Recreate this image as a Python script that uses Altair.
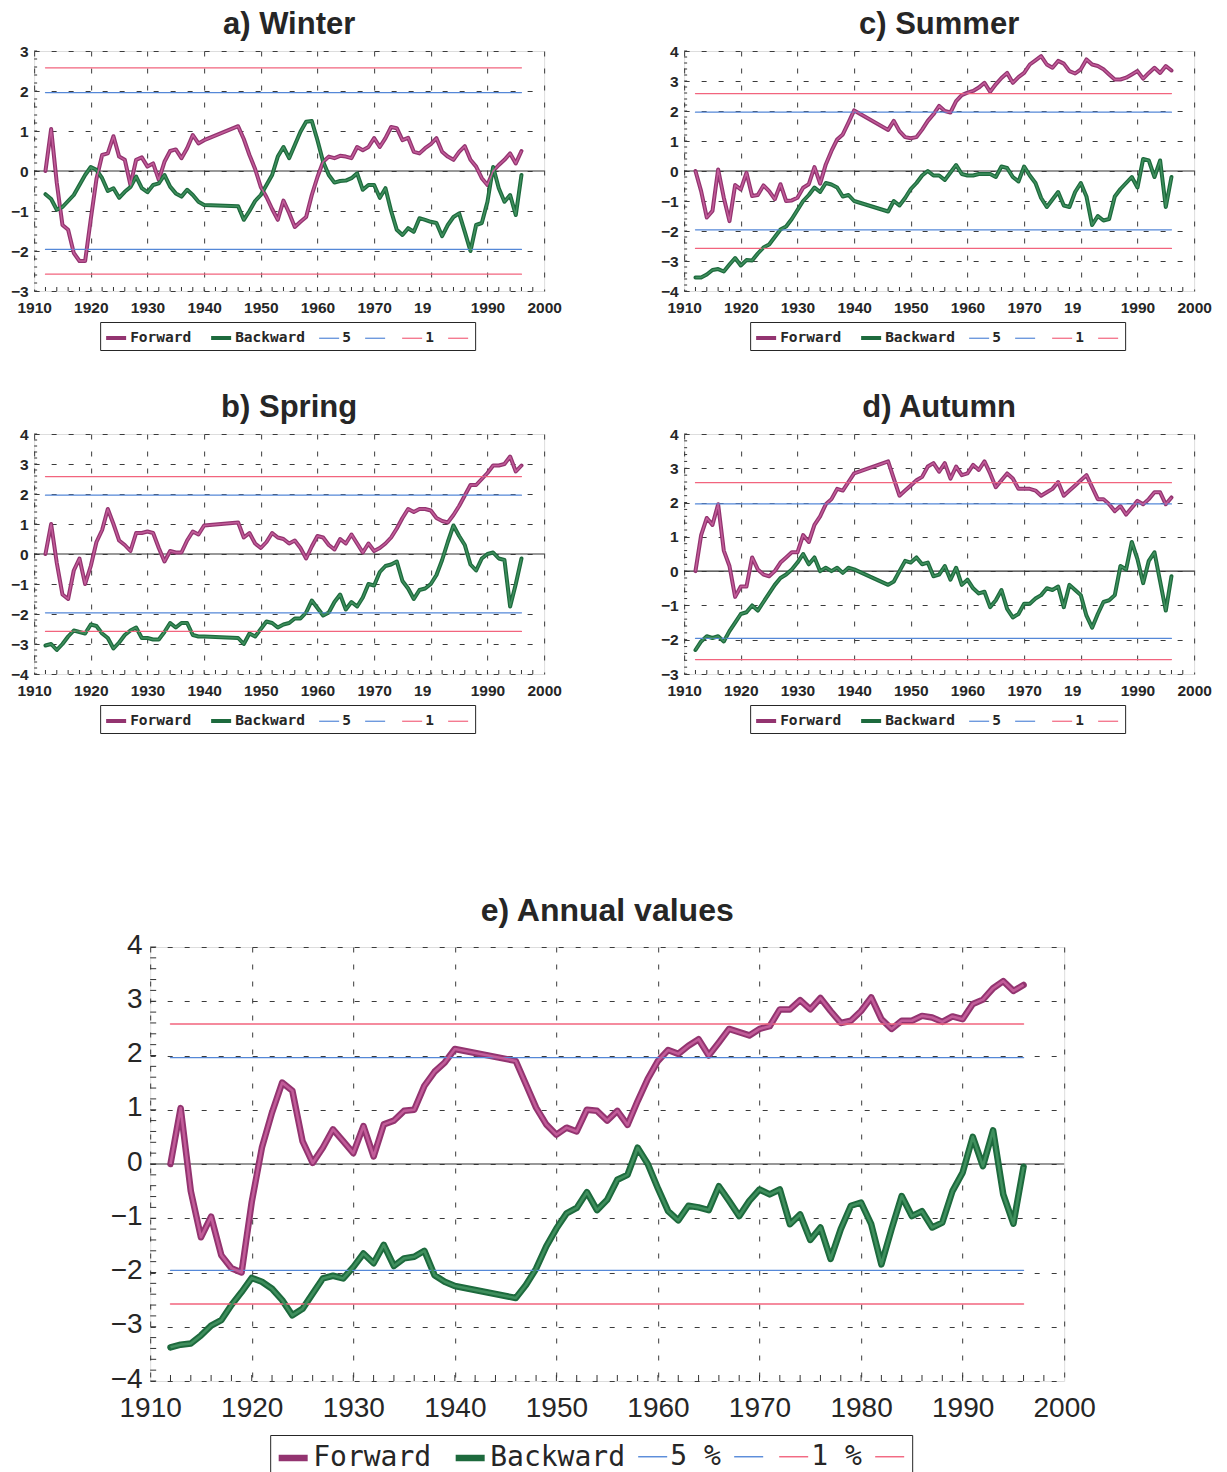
import altair as alt
import pandas as pd
import numpy as np

# Years of the record; 1941-1945 are missing, so the curves jump straight across them.
YEARS = list(range(1912, 1941)) + list(range(1946, 1997))

# Sequential Mann-Kendall statistics u(t) (Forward) and u'(t) (Backward)
WINTER_FORWARD = [
    0.0, 1.05, -0.3, -1.35, -1.47, -2.05, -2.25, -2.25,
    -1.2, -0.2, 0.4, 0.44, 0.87, 0.36, 0.28, -0.35, 0.28, 0.34,
    0.11, 0.19, -0.22, 0.23, 0.5, 0.54, 0.32, 0.57, 0.9, 0.69, 0.77,
    1.12, 0.8, 0.4, 0.05,
    -0.4, -0.65, -0.95, -1.22, -0.74, -1.05, -1.4, -1.27, -1.15, -0.6,
    -0.15, 0.23, 0.36, 0.32, 0.38, 0.36, 0.32, 0.6, 0.52, 0.6,
    0.82, 0.6, 0.82, 1.1, 1.07, 0.77, 0.83, 0.48, 0.44, 0.57,
    0.67, 0.82, 0.48, 0.36, 0.28, 0.48, 0.62, 0.28, 0.11, -0.18,
    -0.35, 0.0, 0.15, 0.28, 0.44, 0.19, 0.5,
]
WINTER_BACKWARD = [
    -0.58, -0.7, -0.97, -0.9, -0.75, -0.6, -0.35, -0.1,
    0.1, 0.03, -0.18, -0.5, -0.43, -0.67, -0.52, -0.4, -0.14, -0.43,
    -0.53, -0.35, -0.31, -0.1, -0.39, -0.56, -0.64, -0.47, -0.6, -0.77, -0.85,
    -0.88, -1.22, -1.0, -0.75,
    -0.6, -0.35, -0.1, 0.36, 0.6, 0.32, 0.65, 0.98, 1.23, 1.25,
    0.77, 0.23, -0.1, -0.29, -0.25, -0.24, -0.18, -0.06, -0.47, -0.35,
    -0.35, -0.67, -0.43, -1.0, -1.47, -1.6, -1.43, -1.52, -1.18, -1.22,
    -1.27, -1.3, -1.63, -1.35, -1.15, -1.06, -1.52, -2.0, -1.35, -1.3,
    -0.77, 0.1, -0.43, -0.77, -0.6, -1.1, -0.1,
]
SPRING_FORWARD = [
    0.0, 1.0, -0.3, -1.35, -1.5, -0.55, -0.15, -1.0,
    -0.4, 0.4, 0.8, 1.5, 1.0, 0.45, 0.3, 0.1, 0.7, 0.7,
    0.75, 0.7, 0.2, -0.25, 0.1, 0.05, 0.05, 0.45, 0.75, 0.65, 0.95,
    1.05, 0.55, 0.7, 0.35,
    0.2, 0.4, 0.7, 0.55, 0.5, 0.35, 0.45, 0.2, -0.15, 0.25,
    0.6, 0.55, 0.3, 0.15, 0.5, 0.35, 0.65, 0.35, 0.05, 0.35,
    0.1, 0.2, 0.35, 0.55, 0.85, 1.2, 1.5, 1.4, 1.5, 1.5,
    1.45, 1.2, 1.1, 1.05, 1.3, 1.6, 1.95, 2.3, 2.3, 2.5,
    2.7, 2.95, 2.95, 3.0, 3.25, 2.75, 2.95,
]
SPRING_BACKWARD = [
    -3.05, -3.0, -3.2, -3.0, -2.75, -2.55, -2.6, -2.65,
    -2.35, -2.4, -2.65, -2.8, -3.15, -2.95, -2.7, -2.55, -2.45, -2.8,
    -2.8, -2.85, -2.85, -2.6, -2.3, -2.45, -2.3, -2.3, -2.7, -2.75, -2.75,
    -2.8, -3.0, -2.65, -2.75,
    -2.5, -2.25, -2.3, -2.45, -2.35, -2.3, -2.15, -2.15, -1.95, -1.55,
    -1.8, -2.05, -1.95, -1.6, -1.35, -1.85, -1.6, -1.75, -1.45, -1.0,
    -1.05, -0.6, -0.4, -0.35, -0.25, -0.9, -1.15, -1.5, -1.2, -1.15,
    -1.0, -0.7, -0.2, 0.4, 0.95, 0.6, 0.3, -0.35, -0.55, -0.15,
    0.0, 0.05, -0.15, -0.2, -1.75, -1.0, -0.15,
]
SUMMER_FORWARD = [
    0.0, -0.67, -1.55, -1.33, 0.05, -0.89, -1.67, -0.47,
    -0.61, -0.06, -0.83, -0.8, -0.48, -0.67, -0.94, -0.44, -1.0, -0.98,
    -0.89, -0.56, -0.44, 0.13, -0.42, 0.22, 0.67, 1.05, 1.22, 1.61, 2.02,
    1.37, 1.67, 1.33, 1.13,
    1.09, 1.13, 1.38, 1.67, 1.89, 2.17, 2.0, 1.95, 2.33, 2.53,
    2.61, 2.67, 2.78, 2.94, 2.64, 2.89, 3.1, 3.27, 2.94, 3.13,
    3.27, 3.55, 3.69, 3.83, 3.55, 3.44, 3.67, 3.58, 3.33, 3.25,
    3.39, 3.72, 3.55, 3.5, 3.39, 3.22, 3.05, 3.05, 3.11, 3.22,
    3.33, 3.08, 3.27, 3.44, 3.27, 3.5, 3.35,
]
SUMMER_BACKWARD = [
    -3.55, -3.55, -3.45, -3.3, -3.27, -3.35, -3.12, -2.9,
    -3.15, -2.97, -2.98, -2.75, -2.55, -2.45, -2.2, -1.95, -1.85, -1.6,
    -1.3, -1.0, -0.8, -0.55, -0.7, -0.4, -0.45, -0.55, -0.85, -0.8, -1.0,
    -1.35, -1.0, -1.15, -0.9,
    -0.6, -0.4, -0.15, 0.0, -0.15, -0.15, -0.3, -0.05, 0.2, -0.1,
    -0.15, -0.15, -0.1, -0.1, -0.1, -0.2, 0.15, 0.1, -0.2, -0.35,
    0.15, -0.15, -0.4, -0.9, -1.2, -0.95, -0.7, -1.15, -1.2, -0.7,
    -0.4, -0.85, -1.8, -1.5, -1.65, -1.6, -0.85, -0.6, -0.4, -0.2,
    -0.55, 0.4, 0.35, -0.2, 0.35, -1.2, -0.2,
]
AUTUMN_FORWARD = [
    0.0, 1.05, 1.55, 1.35, 1.95, 0.6, 0.15, -0.75,
    -0.45, -0.45, 0.4, 0.05, -0.1, -0.15, 0.0, 0.25, 0.4, 0.55,
    0.55, 1.05, 0.85, 1.35, 1.6, 1.95, 2.1, 2.4, 2.35, 2.6, 2.85,
    3.2, 2.7, 2.2, 2.35,
    2.5, 2.65, 2.75, 3.05, 3.15, 2.9, 3.15, 2.7, 3.05, 2.8,
    2.85, 3.1, 2.95, 3.2, 2.85, 2.45, 2.65, 2.85, 2.7, 2.4,
    2.4, 2.4, 2.35, 2.2, 2.3, 2.4, 2.6, 2.2, 2.35, 2.5,
    2.65, 2.8, 2.45, 2.1, 2.1, 1.95, 1.75, 1.9, 1.65, 1.85,
    2.05, 1.95, 2.1, 2.3, 2.3, 1.95, 2.15,
]
AUTUMN_BACKWARD = [
    -2.3, -2.05, -1.9, -1.95, -1.9, -2.05, -1.75, -1.5,
    -1.25, -1.2, -1.0, -1.15, -0.9, -0.65, -0.4, -0.2, -0.1, 0.05,
    0.25, 0.5, 0.2, 0.4, 0.0, 0.1, 0.0, 0.1, -0.05, 0.1, 0.05,
    -0.4, -0.3, 0.0, 0.3,
    0.25, 0.4, 0.2, 0.25, -0.15, -0.1, 0.15, -0.25, 0.1, -0.4,
    -0.25, -0.5, -0.65, -0.6, -1.05, -0.85, -0.55, -1.1, -1.35, -1.25,
    -0.95, -0.95, -0.8, -0.7, -0.5, -0.55, -0.45, -1.05, -0.4, -0.55,
    -0.7, -1.3, -1.65, -1.25, -0.9, -0.85, -0.7, 0.15, 0.05, 0.85,
    0.35, -0.35, 0.3, 0.55, -0.3, -1.15, -0.15,
]
ANNUAL_FORWARD = [
    0.0, 1.03, -0.5, -1.35, -0.97, -1.68, -1.92, -2.0,
    -0.7, 0.3, 0.95, 1.5, 1.35, 0.42, 0.02, 0.3, 0.64, 0.42,
    0.2, 0.7, 0.14, 0.73, 0.8, 0.98, 1.0, 1.44, 1.7, 1.87, 2.12,
    1.9, 1.47, 1.04, 0.73,
    0.54, 0.67, 0.6, 1.0, 0.98, 0.8, 0.98, 0.72, 1.16, 1.57,
    1.9, 2.1, 2.03, 2.18, 2.3, 2.0, 2.24, 2.49, 2.43, 2.37,
    2.49, 2.54, 2.85, 2.85, 3.02, 2.85, 3.06, 2.82, 2.6, 2.64,
    2.82, 3.07, 2.67, 2.49, 2.64, 2.64, 2.73, 2.7, 2.62, 2.72,
    2.67, 2.95, 3.03, 3.24, 3.37, 3.19, 3.3,
]
ANNUAL_BACKWARD = [
    -3.38, -3.33, -3.31, -3.16, -2.98, -2.88, -2.6, -2.36,
    -2.1, -2.17, -2.3, -2.51, -2.79, -2.67, -2.39, -2.11, -2.06, -2.11,
    -1.9, -1.65, -1.83, -1.49, -1.88, -1.74, -1.71, -1.6, -2.05, -2.17, -2.25,
    -2.47, -2.23, -1.93, -1.52,
    -1.19, -0.91, -0.81, -0.52, -0.85, -0.66, -0.29, -0.2, 0.3, 0.0,
    -0.45, -0.87, -1.04, -0.77, -0.8, -0.85, -0.41, -0.68, -0.96, -0.68,
    -0.47, -0.56, -0.47, -1.11, -0.93, -1.4, -1.17, -1.75, -1.2, -0.77,
    -0.71, -1.11, -1.85, -1.2, -0.59, -0.96, -0.87, -1.17, -1.08, -0.5,
    -0.16, 0.5, -0.04, 0.62, -0.56, -1.1, -0.05,
]

# Two-sided significance thresholds of the standard normal statistic
SIG_5 = 1.96
SIG_1 = 2.58

KEYS = ["Forward", "Backward", "p5", "p5_low", "p1", "p1_low"]
LINE_COLORS = ["#933470", "#1d6a3d", "#5588d8", "#5588d8", "#f2647e", "#f2647e"]
INNER_FWD = "#c25c99"
INNER_BWD = "#3f8f5d"
INK = "#262626"

X_TICKS = list(range(1910, 2001, 10))


def panel(title, forward, backward, ymin, ymax, w, h, big):
    assert len(forward) == len(YEARS) and len(backward) == len(YEARS)
    rows = []
    for yr, f, b in zip(YEARS, forward, backward):
        rows.append({"year": yr, "value": f, "series": "Forward"})
        rows.append({"year": yr, "value": b, "series": "Backward"})
    for yr in (YEARS[0], YEARS[-1]):
        rows += [
            {"year": yr, "value": SIG_5, "series": "p5"},
            {"year": yr, "value": -SIG_5, "series": "p5_low"},
            {"year": yr, "value": SIG_1, "series": "p1"},
            {"year": yr, "value": -SIG_1, "series": "p1_low"},
        ]
    df = pd.DataFrame(rows)

    xs = alt.Scale(domain=[1910, 2000], nice=False, zero=False)
    ys = alt.Scale(domain=[ymin, ymax], nice=False, zero=False)

    if big:
        tick_font, tick_size, tick_weight = "Liberation Sans", 28, "normal"
        leg_size, leg_weight, sym, cpad, lpad = 28, "normal", 841, 10, 5
        main_w, inner_w, sig_w = 6.5, 2.6, 1.4
        five, one = "5 %", "1 %"
        x_expr = "datum.label"
        x_align = "center"
        title_size, title_off = 32, 3
        y_len, x_len = 6, 6
        leg_x, leg_y = 120, 488
        lab_pad_x, lab_pad_y, y_shift = 13, 8, -2
    else:
        tick_font, tick_size, tick_weight = "Liberation Sans", 15.5, "bold"
        leg_size, leg_weight, sym, cpad, lpad = 14.5, "bold", 400, 11, 4
        main_w, inner_w, sig_w = 4.0, 1.5, 1.2
        five, one = "5\u00a0\u00a0", "1\u00a0\u00a0"
        # the 1980 label is printed truncated, sitting just left of its gridline
        x_expr = "datum.value == 1980 ? '19' : datum.label"
        x_align = {"condition": {"test": "datum.value == 1980", "value": "right"},
                   "value": "center"}
        title_size, title_off = 31, 3
        y_len, x_len = 3, 4
        leg_x, leg_y = 66, 271
        lab_pad_x, lab_pad_y, y_shift = 9, 6, 0

    label_expr = (
        "datum.label == 'p5' ? '%s' : datum.label == 'p1' ? '%s' : "
        "(datum.label == 'p5_low' || datum.label == 'p1_low') ? '\u00a0' : datum.label"
        % (five, one)
    )
    legend = alt.Legend(
        title=None, orient="none", legendX=leg_x, legendY=leg_y,
        direction="horizontal", symbolType="stroke", symbolSize=sym,
        labelExpr=label_expr, labelFont="DejaVu Sans Mono", labelFontSize=leg_size,
        labelFontWeight=leg_weight, labelColor=INK, labelOffset=2,
        columnPadding=cpad, padding=lpad, strokeColor=INK, fillColor="white",
    )

    axis_common = dict(
        title=None, grid=True, gridDash=[5, 12], gridColor="#3c3c3c", gridWidth=1,
        ticks=False, domain=False, labelFont=tick_font, labelFontSize=tick_size,
        labelFontWeight=tick_weight, labelColor=INK, labelOverlap=False,
    )
    x_axis = alt.Axis(values=X_TICKS, format="d", labelExpr=x_expr, labelAlign=x_align,
                      labelPadding=lab_pad_x, labelFlush=False, **axis_common)
    y_axis = alt.Axis(values=list(range(ymin, ymax + 1)), labelPadding=lab_pad_y,
                      labelOffset=y_shift, **axis_common)

    def X(field):
        return alt.X(field, scale=xs, axis=x_axis)

    def Y(field):
        return alt.Y(field, scale=ys, axis=y_axis)

    lines = alt.Chart(df).mark_line(strokeCap="round", strokeJoin="round").encode(
        x=X("year:Q"),
        y=Y("value:Q"),
        color=alt.Color("series:N", scale=alt.Scale(domain=KEYS, range=LINE_COLORS),
                        legend=legend),
        strokeWidth=alt.StrokeWidth("series:N", scale=alt.Scale(
            type="ordinal", domain=KEYS,
            range=[main_w, main_w, sig_w, sig_w, sig_w, sig_w]), legend=legend),
    )

    fwd_df = df[df.series == "Forward"]
    bwd_df = df[df.series == "Backward"]
    inner_f = alt.Chart(fwd_df).mark_line(color=INNER_FWD, strokeWidth=inner_w, strokeJoin="round").encode(
        x=X("year:Q"), y=Y("value:Q"))
    inner_b = alt.Chart(bwd_df).mark_line(color=INNER_BWD, strokeWidth=inner_w, strokeJoin="round").encode(
        x=X("year:Q"), y=Y("value:Q"))

    zero = alt.Chart(pd.DataFrame({"value": [0]})).mark_rule(color="#333333", strokeWidth=1.2).encode(
        y=Y("value:Q"))

    y_minor = np.round(np.arange(ymin, ymax + 0.001, 0.2), 2)
    ytick = alt.Chart(pd.DataFrame({"value": y_minor})).mark_rule(color="#333333", strokeWidth=1).encode(
        y=Y("value:Q"), x=alt.value(0), x2=alt.value(y_len))
    xtick = alt.Chart(pd.DataFrame({"year": list(range(1912, 2000, 2))})).mark_rule(
        color="#333333", strokeWidth=1).encode(
        x=X("year:Q"), y=alt.value(h), y2=alt.value(h - x_len))

    return alt.layer(zero, ytick, xtick, lines, inner_b, inner_f).properties(
        width=w, height=h,
        title=alt.TitleParams(title, font="Liberation Sans", fontSize=title_size,
                              fontWeight="bold", color=INK, anchor="middle", offset=title_off),
    )


SW, SH = 510, 240
a = panel("a) Winter", WINTER_FORWARD, WINTER_BACKWARD, -3, 3, SW, SH, False)
c = panel("c) Summer", SUMMER_FORWARD, SUMMER_BACKWARD, -4, 4, SW, SH, False)
b = panel("b) Spring", SPRING_FORWARD, SPRING_BACKWARD, -4, 4, SW, SH, False)
d = panel("d) Autumn", AUTUMN_FORWARD, AUTUMN_BACKWARD, -3, 4, SW, SH, False)
e = panel("e) Annual values", ANNUAL_FORWARD, ANNUAL_BACKWARD, -4, 4, 914, 434, True)

ind = dict(color="independent", strokeWidth="independent")
row1 = alt.hconcat(a, c, spacing=97).resolve_scale(**ind)
row2 = alt.hconcat(b, d, spacing=97).resolve_scale(**ind)
top = alt.vconcat(row1, row2, spacing=40).resolve_scale(**ind)

chart = alt.vconcat(top, e, spacing=160, center=True).resolve_scale(**ind).properties(
    padding={"left": 9, "top": 8, "right": 5, "bottom": 5},
).configure_view(stroke="#3a3a3a", strokeWidth=1.2).configure(background="white")

chart.save("out.html", embed_options={"renderer": "svg", "actions": False})
